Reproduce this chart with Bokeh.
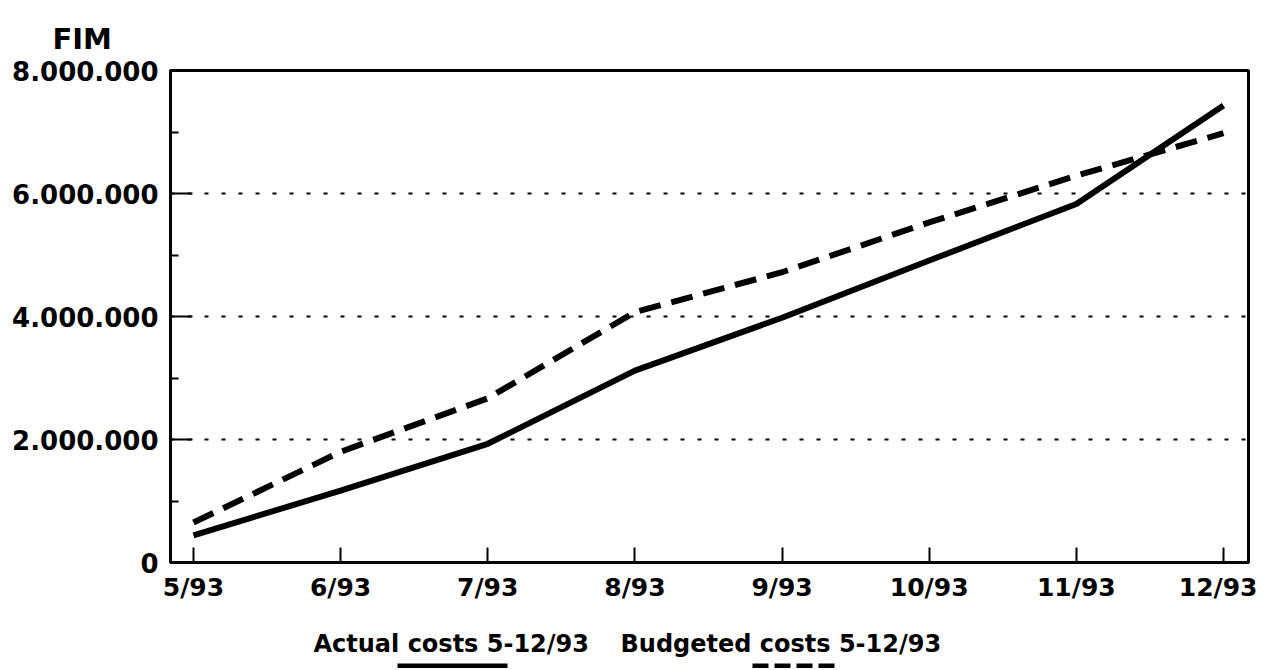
from bokeh.plotting import figure
from bokeh.layouts import column
from bokeh.models import Range1d, FixedTicker, ColumnDataSource
from bokeh.core.properties import value
from bokeh.embed import file_html
from bokeh.resources import INLINE

months = ["5/93", "6/93", "7/93", "8/93", "9/93", "10/93", "11/93", "12/93"]
actual = [440000, 1170000, 1930000, 3120000, 3980000, 4910000, 5830000, 7430000]
budgeted = [650000, 1800000, 2670000, 4070000, 4720000, 5530000, 6290000, 6980000]
y_ticks = [0, 2000000, 4000000, 6000000, 8000000]
y_labels = ["0", "2.000.000", "4.000.000", "6.000.000", "8.000.000"]
unit_label = "FIM"
legend_actual = "Actual costs 5-12/93"
legend_budget = "Budgeted costs 5-12/93"

FONT = "DejaVu Sans"
W = 1257
FRAME_L, FRAME_R = 170, 1248

# main chart
xs = list(range(len(months)))
src = ColumnDataSource(dict(x=xs, actual=actual, budgeted=budgeted))

p = figure(width=W, height=610, output_backend="svg", toolbar_location=None,
           x_range=Range1d(-0.156, 7.17), y_range=Range1d(0, 8000000),
           min_border_left=FRAME_L, min_border_right=W - FRAME_R,
           min_border_top=70, min_border_bottom=48)
p.background_fill_color = "white"
p.border_fill_color = "white"
p.outline_line_color = "black"
p.outline_line_width = 3
p.outline_line_alpha = 1

p.title.text = unit_label
p.title.align = "left"
p.title.offset = -118
p.title.standoff = 30
p.title.text_font = FONT
p.title.text_font_style = "bold"
p.title.text_font_size = "29px"
p.title.text_color = "black"

p.line("x", "budgeted", source=src, line_color="black", line_width=6, line_dash="22 11")
p.line("x", "actual", source=src, line_color="black", line_width=6)

p.xaxis.ticker = FixedTicker(ticks=xs)
p.xaxis.major_label_overrides = {i: m for i, m in enumerate(months)}
p.xaxis.axis_line_width = 3
p.xaxis.major_tick_in = 15
p.xaxis.major_tick_out = 0
p.xaxis.major_tick_line_width = 2
p.xaxis.minor_tick_line_color = None
p.xaxis.major_label_text_font = FONT
p.xaxis.major_label_text_font_style = "bold"
p.xaxis.major_label_text_font_size = "25px"
p.xaxis.major_label_text_color = "black"
p.xaxis.major_label_standoff = 10

p.yaxis.ticker = FixedTicker(ticks=y_ticks, minor_ticks=[1000000, 3000000, 5000000, 7000000])
p.yaxis.major_label_overrides = {t: l for t, l in zip(y_ticks, y_labels)}
p.yaxis.axis_line_width = 3
p.yaxis.major_tick_in = 22
p.yaxis.major_tick_out = 0
p.yaxis.major_tick_line_width = 2
p.yaxis.minor_tick_in = 8
p.yaxis.minor_tick_out = 0
p.yaxis.minor_tick_line_width = 2
p.yaxis.major_label_text_font = FONT
p.yaxis.major_label_text_font_style = "bold"
p.yaxis.major_label_text_font_size = "26px"
p.yaxis.major_label_text_color = "black"
p.yaxis.major_label_standoff = 12

p.xgrid.grid_line_color = None
p.ygrid.ticker = FixedTicker(ticks=[2000000, 4000000, 6000000])
p.ygrid.grid_line_color = "black"
p.ygrid.grid_line_width = 2
p.ygrid.grid_line_dash = "4 13"

# legend strip below (its frame is aligned with the chart frame; x in page pixels)
LH = 58
leg = figure(width=W, height=LH, output_backend="svg", toolbar_location=None,
             x_range=Range1d(FRAME_L, FRAME_R), y_range=Range1d(LH, 0),
             x_axis_type=None, y_axis_type=None,
             min_border_left=FRAME_L, min_border_right=W - FRAME_R,
             min_border_top=0, min_border_bottom=0)
leg.outline_line_color = None
leg.xgrid.grid_line_color = None
leg.ygrid.grid_line_color = None
leg.background_fill_color = "white"
leg.border_fill_color = "white"
leg.text(x=[313, 620], y=[33, 33], text=[legend_actual, legend_budget],
         text_font=value(FONT), text_font_style="bold", text_font_size="24px",
         text_color="black", text_baseline="middle", text_align="left")
leg.line(x=[397, 507], y=[56, 56], line_color="black", line_width=6)
leg.line(x=[752, 838], y=[56, 56], line_color="black", line_width=6, line_dash="16 6")

layout = column(p, leg, spacing=0)
open("out.html", "w").write(file_html(layout, INLINE))
